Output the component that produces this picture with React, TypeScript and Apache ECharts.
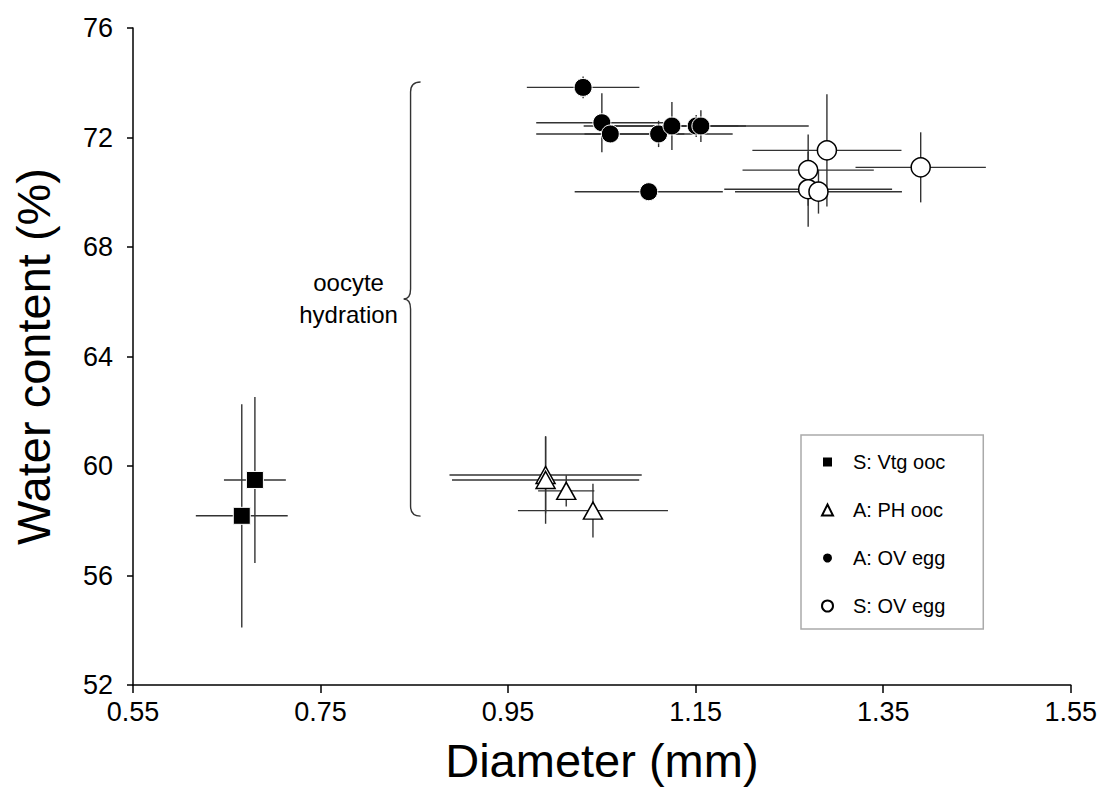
import React, { useEffect, useRef } from "react";
import * as echarts from "echarts";

// ---- data: [diameter (mm), water content (%), x error, y error]
const vtgOoc: number[][] = [
  [0.680, 59.49, 0.033, 3.03],
  [0.666, 58.18, 0.049, 4.08],
];
const phOoc: number[][] = [
  [0.990, 59.67, 0.1025, 1.4],
  [0.990, 59.49, 0.0998, 1.6],
  [1.012, 59.09, 0.03, 0.57],
  [1.0405, 58.37, 0.08, 0.98],
];
const aOvEgg: number[][] = [
  [1.030, 73.83, 0.06, 0.4],
  [1.050, 72.54, 0.07, 1.08],
  [1.059, 72.13, 0.079, 0.2],
  [1.1105, 72.13, 0.079, 0.48],
  [1.1247, 72.42, 0.079, 0.88],
  [1.1506, 72.42, 0.12, 0.4],
  [1.1556, 72.42, 0.04, 0.58],
  [1.100, 70.02, 0.079, 0.2],
];
const sOvEgg: number[][] = [
  [1.290, 71.53, 0.0795, 2.05],
  [1.270, 70.81, 0.07, 1.3],
  [1.270, 70.11, 0.0895, 1.37],
  [1.281, 70.02, 0.089, 0.8],
  [1.390, 70.91, 0.0695, 1.28],
];
const seriesNames = ["S: Vtg ooc", "A: PH ooc", "A: OV egg", "S: OV egg"];
// bracket annotation: [x, top y, bottom y]
const bracket: number[][] = [[0.846, 74.03, 58.17]];
const bracketLabel = "oocyte\nhydration";

const xMin = 0.55, xMax = 1.55, xStep = 0.2;
const yMin = 52, yMax = 76, yStep = 4;

const FONT = "'Liberation Sans', Arial, Helvetica, sans-serif";
const BAR = "#333";

function errorBars(data: number[][]) {
  return {
    type: "custom",
    data,
    z: 1,
    silent: true,
    encode: { x: 0, y: 1 },
    renderItem: (params: any, api: any) => {
      const x = api.value(0), y = api.value(1), ex = api.value(2), ey = api.value(3);
      const l = api.coord([x - ex, y]);
      const r = api.coord([x + ex, y]);
      const t = api.coord([x, y + ey]);
      const b = api.coord([x, y - ey]);
      const style = { stroke: BAR, lineWidth: 1.4 };
      return {
        type: "group",
        children: [
          { type: "line", shape: { x1: l[0], y1: l[1], x2: r[0], y2: r[1] }, style },
          { type: "line", shape: { x1: t[0], y1: t[1], x2: b[0], y2: b[1] }, style },
        ],
      };
    },
  };
}

export default function App() {
  const ref = useRef<HTMLDivElement>(null);
  useEffect(() => {
    if (!ref.current) return;
    const chart = echarts.init(ref.current, undefined, { renderer: "svg" });
    const option: any = {
      animation: false,
      backgroundColor: "#fff",
      textStyle: { fontFamily: FONT },
      grid: { left: 133, right: 28, top: 28, bottom: 113 },
      xAxis: {
        type: "value",
        min: xMin,
        max: xMax,
        interval: xStep,
        name: "Diameter (mm)",
        nameLocation: "middle",
        nameGap: 52,
        nameTextStyle: { fontSize: 47, color: "#000", fontFamily: FONT },
        axisLine: { onZero: false, lineStyle: { color: "#000", width: 1.5 } },
        axisTick: { inside: false, length: 8, lineStyle: { color: "#000", width: 1.5 } },
        axisLabel: {
          fontSize: 27,
          color: "#000",
          margin: 13,
          fontFamily: FONT,
          formatter: (v: number) => v.toFixed(2),
        },
        splitLine: { show: false },
      },
      yAxis: {
        type: "value",
        min: yMin,
        max: yMax,
        interval: yStep,
        name: "Water content (%)",
        nameLocation: "middle",
        nameGap: 76,
        nameTextStyle: { fontSize: 47, color: "#000", fontFamily: FONT },
        axisLine: { onZero: false, lineStyle: { color: "#000", width: 1.5 } },
        axisTick: { inside: false, length: 6, lineStyle: { color: "#000", width: 1.5 } },
        axisLabel: { fontSize: 27, color: "#000", margin: 20, fontFamily: FONT },
        splitLine: { show: false },
      },
      legend: {
        data: seriesNames,
        orient: "vertical",
        left: 801,
        top: 435,
        padding: [17, 38, 13, 20],
        itemWidth: 11,
        itemHeight: 11,
        itemGap: 28,
        selectedMode: false,
        borderColor: "#aaa",
        borderWidth: 1.5,
        backgroundColor: "#fff",
        textStyle: {
          fontSize: 20,
          lineHeight: 20,
          color: "#000",
          fontFamily: FONT,
          padding: [0, 0, 0, 15],
        },
      },
      series: [
        errorBars(vtgOoc),
        errorBars(phOoc),
        errorBars(aOvEgg),
        errorBars(sOvEgg),
        {
          type: "custom",
          data: bracket,
          silent: true,
          z: 1,
          renderItem: (params: any, api: any) => {
            const x = api.value(0);
            const top = api.coord([x, api.value(1)]);
            const bot = api.coord([x, api.value(2)]);
            const bx = top[0];
            const ty = top[1];
            const by = bot[1];
            const my = (ty + by) / 2;
            const d =
              `M ${bx + 10} ${ty} Q ${bx} ${ty} ${bx} ${ty + 10} ` +
              `L ${bx} ${my - 10} Q ${bx} ${my} ${bx - 7} ${my} ` +
              `Q ${bx} ${my} ${bx} ${my + 10} L ${bx} ${by - 10} ` +
              `Q ${bx} ${by} ${bx + 10} ${by}`;
            return {
              type: "group",
              children: [
                {
                  type: "path",
                  shape: { pathData: d },
                  style: { stroke: BAR, lineWidth: 1.4, fill: "none" },
                },
                {
                  type: "text",
                  x: bx - 62,
                  y: my - 1,
                  style: {
                    text: bracketLabel,
                    align: "center",
                    verticalAlign: "middle",
                    fontSize: 24,
                    lineHeight: 32,
                    fontFamily: FONT,
                    fill: "#000",
                  },
                },
              ],
            };
          },
        },
        {
          name: seriesNames[0],
          type: "scatter",
          data: vtgOoc.map((d) => [d[0], d[1]]),
          symbol: "rect",
          symbolSize: 17,
          z: 3,
          itemStyle: { color: "#000", borderColor: "#fff", borderWidth: 1, opacity: 1 },
        },
        {
          name: seriesNames[1],
          type: "scatter",
          data: phOoc.map((d) => [d[0], d[1]]),
          symbol: "triangle",
          symbolSize: [19, 17],
          z: 3,
          itemStyle: { color: "#fff", borderColor: "#000", borderWidth: 1.5, opacity: 1 },
        },
        {
          name: seriesNames[2],
          type: "scatter",
          data: aOvEgg.map((d) => [d[0], d[1]]),
          symbol: "circle",
          symbolSize: 18,
          z: 3,
          itemStyle: { color: "#000", borderColor: "#fff", borderWidth: 1, opacity: 1 },
        },
        {
          name: seriesNames[3],
          type: "scatter",
          data: sOvEgg.map((d) => [d[0], d[1]]),
          symbol: "circle",
          symbolSize: 19,
          z: 3,
          itemStyle: { color: "#fff", borderColor: "#000", borderWidth: 1.5, opacity: 1 },
        },
      ],
    };
    chart.setOption(option);
    return () => chart.dispose();
  }, []);
  return (
    <div
      ref={ref}
      style={{ position: "fixed", left: 0, top: 0, width: 1100, height: 798, background: "#fff" }}
    />
  );
}
